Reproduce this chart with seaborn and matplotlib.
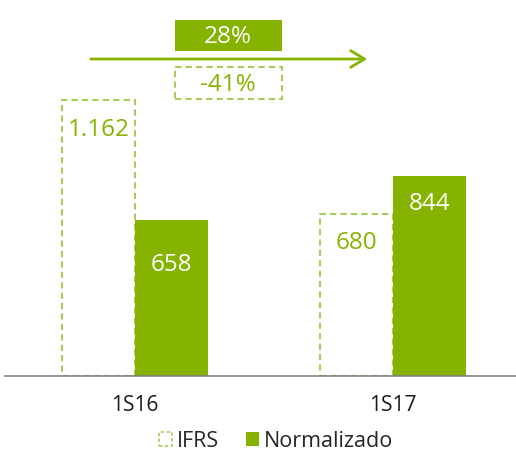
import pandas as pd
import matplotlib.pyplot as plt
import seaborn as sns
from matplotlib.patches import Rectangle, Patch

# data
periodos = ['1S16', '1S17']
ifrs = [1162, 680]
normalizado = [658, 844]
etiquetas_ifrs = ['1.162', '680']
etiquetas_norm = ['658', '844']
var_norm = '28%'
var_ifrs = '-41%'

verde = '#86b300'
verde_claro = '#a8cc5a'

df = pd.DataFrame({
    'periodo': periodos * 2,
    'valor': ifrs + normalizado,
    'serie': ['IFRS'] * 2 + ['Normalizado'] * 2,
})

sns.set_style('white')
plt.rcParams['font.family'] = ['Open Sans', 'DejaVu Sans']

fig = plt.figure(figsize=(5.16, 4.56), dpi=100)
ax = fig.add_axes([5 / 516, 1 - 377 / 456, 1 - 5 / 516, 377 / 456])

sns.barplot(data=df, x='periodo', y='valor', hue='serie', palette=[verde, verde],
            width=0.566, gap=0, saturation=1, legend=False, ax=ax)

# IFRS bars: white with dashed light green outline
n = len(periodos)
for i, p in enumerate(ax.patches[:n]):
    p.set_facecolor('white')
    p.set_edgecolor(verde_claro)
    p.set_linestyle((0, (3, 2)))
    p.set_linewidth(1.5)
for p in ax.patches[n:]:
    p.set_edgecolor('none')

ax.set_xlim(-0.504, 1.477)
ax.set_ylim(0, 1587)

# value labels inside the bars
px = 1587 / 377
offs_ifrs = [29, 28]
offs_norm = [44, 27]
for i in range(n):
    pi = ax.patches[i]
    pn = ax.patches[n + i]
    ax.text(pi.get_x() + pi.get_width() / 2, ifrs[i] - offs_ifrs[i] * px, etiquetas_ifrs[i],
            ha='center', va='center', color=verde, fontsize=17.5)
    ax.text(pn.get_x() + pn.get_width() / 2, normalizado[i] - offs_norm[i] * px, etiquetas_norm[i],
            ha='center', va='center', color='white', fontsize=17.5)

sns.despine(ax=ax, left=True)
ax.spines['bottom'].set_color('#808080')
ax.spines['bottom'].set_linewidth(1.2)
ax.set_yticks([])
ax.set_xlabel('')
ax.set_ylabel('')
ax.tick_params(axis='x', length=0, labelsize=15, pad=13, labelcolor='#1a1a1a')

# growth arrow and boxes at the top
fig.add_artist(Rectangle((175 / 516, 1 - 52 / 456), 107 / 516, 31 / 456,
                         transform=fig.transFigure, facecolor=verde, edgecolor='none'))
fig.text(228 / 516, 1 - 37 / 456, var_norm, ha='center', va='center', color='white', fontsize=17.5)
fig.add_artist(Rectangle((175 / 516, 1 - 100 / 456), 107 / 516, 32 / 456,
                         transform=fig.transFigure, facecolor='white', edgecolor=verde_claro,
                         linestyle=(0, (3, 2)), linewidth=1.5))
fig.text(228 / 516, 1 - 85 / 456, var_ifrs, ha='center', va='center', color=verde, fontsize=17.5)
ax.annotate('', xy=(370 / 516, 1 - 60 / 456), xytext=(88 / 516, 1 - 60 / 456),
            xycoords='figure fraction', textcoords='figure fraction',
            arrowprops=dict(arrowstyle='->,head_length=1.0,head_width=0.6', color=verde, lw=2))

handles = [Patch(facecolor='white', edgecolor=verde_claro, linestyle=(0, (2, 1.5)), linewidth=1.2),
           Patch(facecolor=verde, edgecolor='none')]
fig.legend(handles, ['IFRS', 'Normalizado'], loc='center', bbox_to_anchor=(0.535, 1 - 442 / 456),
           ncol=2, frameon=False, fontsize=15.5, handlelength=0.6, handleheight=0.6,
           handletextpad=0.2, columnspacing=1.3)

fig.savefig('out.png', dpi=100)
